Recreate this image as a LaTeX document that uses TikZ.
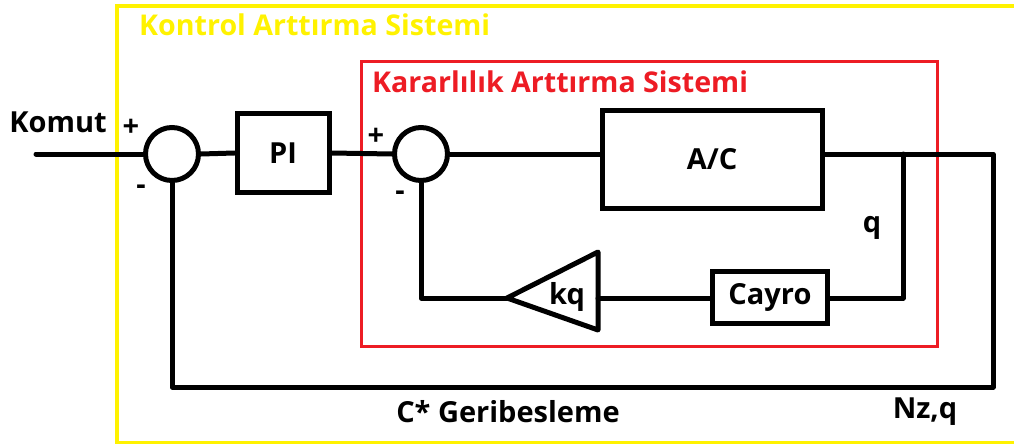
\documentclass[tikz,border=0pt]{standalone}
\usepackage{fontspec}
\setmainfont{Open Sans}
\definecolor{ybox}{RGB}{255,242,0}
\definecolor{rbox}{RGB}{237,28,36}
\begin{document}
\begin{tikzpicture}[x=1pt,y=-1pt,
  wire/.style={line width=5pt,line cap=round,line join=round},
  blk/.style={draw,line width=5pt,inner sep=0pt,font=\fontsize{29}{32}\selectfont\bfseries},
  sumc/.style={draw,circle,line width=5pt,minimum size=53pt,inner sep=0pt},
  lbl/.style={inner sep=0pt,font=\fontsize{29}{32}\selectfont\bfseries},
  ttl/.style={inner sep=0pt,anchor=west,font=\fontsize{28.6}{31}\selectfont\bfseries}]
\useasboundingbox (0,0) rectangle (1014,444);
\begin{scope}
\clip (0,0) rectangle (1014,444);
\draw[ybox,line width=4pt] (117,6) rectangle (1040,443);
\end{scope}
\draw[rbox,line width=3pt] (361,62) rectangle (937,346);
\node[ttl,text=ybox] (t1) at (139,25) {Kontrol Arttırma Sistemi};
\node[ttl,text=rbox] (t2) at (372,82) {Kararlılık Arttırma Sistemi};
% blocks
\node[sumc] (s1) at (172,154) {};
\node[blk,minimum width=92pt,minimum height=79pt] (pi) at (283,153) {PI};
\node[sumc] (s2) at (421,154) {};
\node[blk,minimum width=220pt,minimum height=98pt] (ac) at (712,159) {A/C};
\node[blk,minimum width=115pt,minimum height=52pt] (cayro) at (770,297) {Cayro};
\coordinate (kqapex) at (507,298);
\coordinate (kqtop) at (598,252);
\coordinate (kqbot) at (598,330);
\coordinate (kqback) at (598,298);
\draw[wire] (kqapex) -- (kqtop) -- (kqbot) -- cycle;
\node[lbl] (kq) at (567,297) {kq};
% coordinates
\coordinate (in) at (36,154);
\coordinate (br) at (903,154);
\coordinate (out) at (993,154);
\coordinate (c1) at (993,387);
\coordinate (c2) at (172,387);
\coordinate (c3) at (903,298);
\coordinate (c4) at (421,298);
% wires
\draw[wire] (in) -- (s1.west);
\draw[wire] (s1.east) -- (pi.west);
\draw[wire] (pi.east) -- (s2.west);
\draw[wire] (s2.east) -- (ac.west |- s2);
\draw[wire] (ac.east |- s2) -- (out) -- (c1) -- (c2) -- (s1.south);
\draw[wire] (br) -- (c3) -- (cayro.east |- c3);
\draw[wire] (cayro.west |- c3) -- (kqback);
\draw[wire] (kqapex) -- (c4) -- (s2.south);
% labels
\node[lbl] (komut) at (58,122) {Komut};
\node[lbl] (p1) at (131,128) {+};
\node[lbl] (m1) at (141,190) {-};
\node[lbl] (p2) at (376,137) {+};
\node[lbl] (m2) at (400,196) {-};
\node[lbl] (q) at (872,228) {q};
\node[lbl] (nzq) at (925,412) {Nz,q};
\node[lbl] (cg) at (508,412) {C* Geribesleme};
\end{tikzpicture}
\end{document}
